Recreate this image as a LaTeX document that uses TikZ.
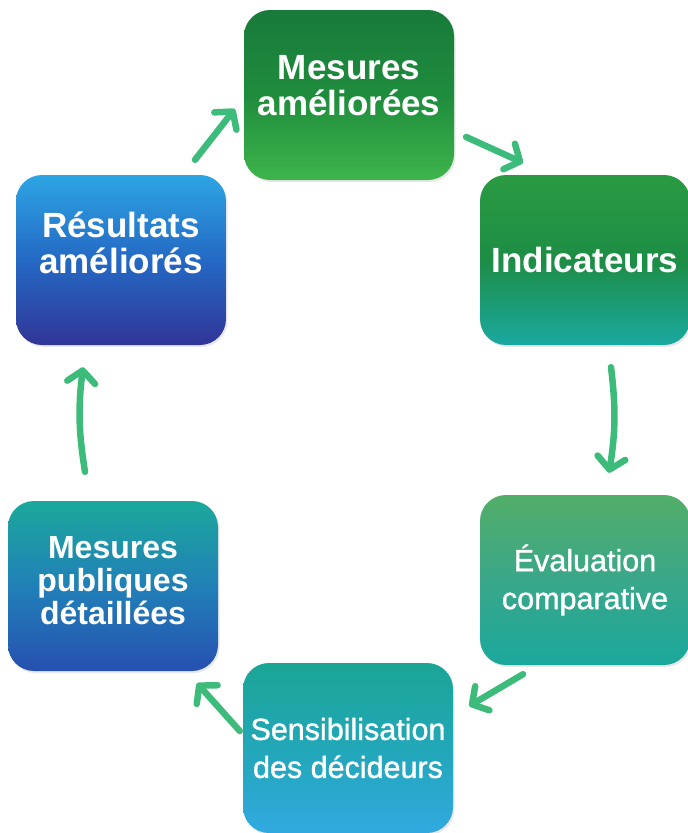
\documentclass[tikz,border=0pt]{standalone}
\usepackage{fontspec}
\setmainfont{Liberation Sans}
\newfontfamily\medfont[FakeBold=1.2]{Liberation Sans}
\usepackage{xcolor}
\usepackage{tikz}
\usetikzlibrary{arrows.meta}
\usetikzlibrary{shadows}

\definecolor{arrowgreen}{HTML}{3DBB7B}

\begin{document}
\begin{tikzpicture}[x=1pt, y=-1pt,
        box/.style={rounded corners=26pt, minimum width=210pt, minimum height=170pt, align=center, text=white, font=\fontsize{35}{36}\selectfont\bfseries, drop shadow={opacity=0.18, shadow xshift=1.5pt, shadow yshift=-2pt}},
        plain/.style={font=\fontsize{30.5}{38}\selectfont\medfont},
        arrow/.style={-{Straight Barb[length=12pt, width=28pt, round]}, line width=6.5pt, line cap=round, arrowgreen}
      ]
        \useasboundingbox (0,0) rectangle (688,833);
        \node[box, text depth=20pt, top color={rgb,255:red,24;green,122;blue,58}, bottom color={rgb,255:red,61;green,181;blue,75}, middle color={rgb,255:red,31;green,140;blue,61}] (amel) at (349,95) {Mesures\\améliorées};
        \node[box, top color={rgb,255:red,42;green,154;blue,66}, bottom color={rgb,255:red,26;green,169;blue,161}, middle color={rgb,255:red,29;green,141;blue,69}] (ind) at (585,260) {Indicateurs};
        \node[box, plain, top color={rgb,255:red,82;green,174;blue,104}, bottom color={rgb,255:red,26;green,168;blue,156}, middle color={rgb,255:red,58;green,167;blue,138}] (eval) at (585,580) {Évaluation\\comparative};
        \node[box, plain, top color={rgb,255:red,27;green,165;blue,149}, bottom color={rgb,255:red,49;green,169;blue,224}, middle color={rgb,255:red,34;green,167;blue,184}] (sens) at (348,748) {Sensibilisation\\des décideurs};
        \node[box, text depth=12pt, font=\fontsize{32}{33}\selectfont\bfseries, top color={rgb,255:red,27;green,168;blue,155}, bottom color={rgb,255:red,38;green,80;blue,176}, middle color={rgb,255:red,33;green,128;blue,184}] (pub) at (113,586) {Mesures\\publiques\\détaillées};
        \node[box, text depth=34pt, top color={rgb,255:red,45;green,165;blue,227}, bottom color={rgb,255:red,49;green,53;blue,151}, middle color={rgb,255:red,36;green,105;blue,196}] (res) at (121,260) {Résultats\\améliorés};
        \draw[arrow] ([xshift=74pt, yshift=15pt]res.north) -- ([xshift=-9pt, yshift=-14pt]amel.west);
        \draw[arrow] ([xshift=12pt, yshift=-42pt]amel.east) -- ([xshift=-62pt, yshift=12pt]ind.north);
        \draw[arrow] ([xshift=26pt, yshift=-22pt]ind.south) to[bend left=8] ([xshift=24pt, yshift=22pt]eval.north);
        \draw[arrow] ([xshift=-62pt, yshift=-9pt]eval.south) -- ([xshift=16pt, yshift=42pt]sens.east);
        \draw[arrow] ([xshift=-3pt, yshift=17pt]sens.west) -- ([xshift=84pt, yshift=-12pt]pub.south);
        \draw[arrow] ([xshift=-28pt, yshift=29pt]pub.north) to[bend left=8] ([xshift=-38pt, yshift=-22pt]res.south);
      \end{tikzpicture}
\end{document}
